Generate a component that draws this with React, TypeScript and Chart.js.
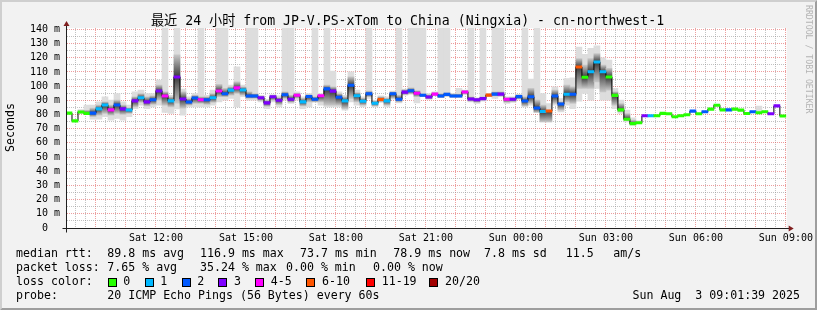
import { useEffect, useRef } from 'react';
import { Chart, registerables } from 'chart.js';
Chart.register(...registerables);

// ---- data (minutes since Sat 00:00; 12-minute consolidated steps from Sat 09:00) ----
const stepStartMinutes = 540;
const stepMinutes = 12;
const windowStart = 541.65; // Sat 09:01:39
const windowEnd = 1981.65; // Sun 09:01:39
const gridStepMinutes = 20;
const OFF = 145; // smoke reaching above the chart

const medianRtt = [
  81.0, 75.5, 81.8, 80.8, 81.0, 84.0, 86.7, 83.3, 86.7, 84.0,
  83.2, 89.6, 91.8, 88.9, 90.4, 96.6, 93.1, 89.6, 106.5, 91.0,
  88.8, 91.6, 90.4, 90.4, 91.8, 96.6, 94.6, 97.2, 98.8, 97.3,
  93.0, 93.0, 91.8, 88.2, 92.5, 90.1, 93.9, 90.8, 93.6, 88.9,
  92.7, 90.8, 93.2, 98.1, 96.5, 92.2, 89.6, 100.7, 93.2, 89.4,
  94.6, 88.0, 90.6, 89.6, 94.6, 90.8, 95.8, 96.7, 95.0, 93.6,
  92.3, 94.4, 93.0, 94.2, 93.0, 93.0, 95.9, 91.0, 90.4, 91.2,
  93.7, 94.4, 94.4, 90.8, 90.8, 92.6, 89.5, 92.5, 84.6, 82.1,
  82.5, 93.1, 87.4, 94.3, 94.3, 113.5, 106.3, 110.1, 117.0, 110.1,
  106.4, 93.5, 83.3, 76.7, 73.6, 74.2, 79.1, 79.1, 79.1, 80.8,
  80.5, 78.4, 79.1, 79.8, 82.4, 80.5, 81.9, 83.8, 86.6, 83.3,
  83.3, 83.8, 83.1, 80.7, 81.9, 81.2, 81.9, 80.5, 86.1, 78.9,
];

const lossClass = [
  0, 0, 0, 0, 2, 1, 1, 4, 2, 3,
  1, 3, 1, 3, 2, 3, 4, 1, 3, 3,
  2, 2, 4, 2, 1, 4, 2, 1, 4, 1,
  2, 2, 3, 3, 3, 3, 2, 3, 4, 1,
  2, 2, 4, 2, 3, 2, 1, 2, 1, 1,
  2, 1, 5, 1, 2, 2, 3, 2, 4, 2,
  3, 4, 2, 2, 2, 2, 4, 3, 3, 3,
  5, 2, 3, 4, 3, 2, 2, 2, 2, 1,
  5, 2, 2, 1, 2, 5, 0, 1, 1, 1,
  0, 0, 0, 0, 0, 0, 3, 1, 0, 0,
  0, 0, 0, 0, 2, 0, 2, 0, 0, 0,
  2, 0, 0, 0, 2, 0, 0, 3, 3, 0,
];

const smokeLo = [
  null, null, 80.8, 80.0, 76.7, 76.7, 78.4, 76.0, 77.2, 76.0,
  78.4, 84.2, 86.6, 84.2, 85.4, 86.6, 81.4, 80.7, 84.0, 79.5,
  85.4, 85.4, 85.4, 85.4, 86.6, 88.9, 90.1, 91.3, 85.4, 92.5,
  90.1, 90.1, 88.9, 84.2, 88.9, 85.4, 90.1, 87.8, 90.1, 84.2,
  85.4, 88.9, 86.6, 85.4, 85.4, 85.4, 83.1, 88.9, 86.6, 85.4,
  91.3, 85.4, 88.5, 85.4, 90.8, 88.2, 93.6, 94.6, 88.2, 92.5,
  90.8, 93.2, 91.8, 92.5, 91.8, 91.8, 94.1, 88.9, 87.8, 89.4,
  92.5, 91.3, 92.5, 87.8, 88.5, 90.8, 85.4, 86.6, 81.4, 74.8,
  74.8, 86.6, 81.9, 86.6, 84.2, 89.4, 94.8, 90.1, 98.4, 90.1,
  90.1, 84.2, 80.7, 74.8, 72.5, 73.5, null, null, null, null,
  null, null, null, null, null, null, null, null, null, null,
  null, null, null, null, null, 80.7, null, null, null, null,
];

const smokeHi = [
  null, null, 83.5, 86.6, 86.6, 88.9, 92.5, 90.1, 94.8, 88.9,
  86.6, 96.0, 97.2, 94.8, 94.8, 104.2, OFF, 93.6, OFF, 98.0,
  92.5, 94.8, OFF, 93.6, 97.2, OFF, OFF, 100.7, 113.6, 100.7,
  OFF, OFF, 93.6, 90.8, 94.1, 93.2, OFF, OFF, 96.0, 92.5,
  94.8, OFF, 94.8, OFF, 110.6, 96.0, 93.6, 110.1, 97.2, 92.5,
  OFF, 90.1, 93.2, 92.5, 96.5, OFF, 97.9, OFF, OFF, OFF,
  94.8, 96.0, OFF, OFF, 94.8, 98.4, 97.2, OFF, 91.8, OFF,
  94.8, OFF, OFF, 92.5, 92.5, 94.1, OFF, 105.0, OFF, 94.8,
  87.8, 99.5, 91.3, 105.4, 105.9, 127.5, 122.4, 126.6, 128.5, 120.0,
  118.4, 98.4, 90.1, 83.1, 77.6, 75.5, null, null, null, null,
  null, null, null, null, null, null, null, null, null, null,
  null, null, null, null, null, 85.9, null, null, null, null,
];

const coreLo = [
  null, null, 81.0, 80.2, 78.5, 79.5, 80.7, 79.5, 80.7, 80.0,
  80.7, 85.4, 88.5, 86.1, 87.1, 90.1, 86.6, 85.4, 88.0, 84.5,
  86.6, 87.8, 87.8, 87.1, 88.5, 92.5, 92.5, 93.6, 94.8, 93.6,
  91.3, 91.3, 89.8, 85.8, 90.0, 87.0, 91.3, 88.5, 91.5, 86.0,
  88.9, 88.9, 88.9, 86.6, 86.6, 86.6, 84.2, 91.3, 88.9, 86.6,
  92.5, 86.0, 89.0, 86.6, 91.5, 88.9, 94.0, 94.6, 92.5, 92.5,
  91.0, 93.4, 91.8, 93.2, 92.0, 92.0, 94.5, 89.4, 88.5, 89.9,
  92.8, 93.2, 93.2, 88.5, 89.0, 91.0, 86.0, 87.8, 81.4, 74.8,
  74.8, 87.8, 83.1, 88.9, 87.8, 98.4, 98.4, 98.4, 103.0, 96.0,
  97.2, 86.6, 81.9, 76.0, 73.0, null, null, null, null, null,
  null, null, null, null, null, null, null, null, null, null,
  null, null, null, null, null, null, null, null, null, null,
];

const coreHi = [
  null, null, 82.6, 83.0, 84.5, 86.6, 88.9, 86.6, 90.1, 86.6,
  84.7, 92.5, 94.8, 92.5, 93.2, 100.7, 96.0, 92.5, 122.0, 96.0,
  91.3, 93.6, 92.5, 92.5, 94.8, 101.2, 98.4, 99.5, 103.0, 99.5,
  96.0, 94.8, 93.0, 90.0, 93.6, 92.0, 96.0, 93.6, 95.0, 91.5,
  94.1, 92.5, 94.1, 100.7, 99.5, 94.8, 92.5, 106.6, 95.5, 91.5,
  96.5, 89.5, 92.5, 91.5, 96.0, 93.6, 97.5, 98.8, 96.9, 94.8,
  94.0, 95.5, 94.8, 95.5, 94.5, 94.5, 97.0, 92.5, 91.5, 92.5,
  94.5, 96.0, 96.0, 92.0, 92.0, 93.8, 92.5, 98.4, 90.1, 86.6,
  83.1, 97.2, 88.9, 100.7, 99.5, 119.5, 114.8, 119.5, 123.0, 114.8,
  112.5, 96.0, 87.8, 80.7, 76.0, null, null, null, null, null,
  null, null, null, null, null, null, null, null, null, null,
  null, null, null, null, null, null, null, null, null, null,
];

const lossColors = ['#26ff00', '#00b8ff', '#0059ff', '#7e00ff', '#ff00ff', '#ff5500', '#ff0000', '#a10000'];
const lossLabels = ['0', '1', '2', '3', '4-5', '6-10', '11-19', '20/20'];

const titleText = '最近 24 小时 from JP-V.PS-xTom to China (Ningxia) - cn-northwest-1';
const yAxisTitle = 'Seconds';
const sideText = 'RRDTOOL / TOBI OETIKER';
const rttStats = ['median rtt:', '89.8 ms avg', '116.9 ms max', '73.7 ms min', '78.9 ms now', '7.8 ms sd', '11.5', 'am/s'];
const lossStats = ['packet loss:', '7.65 % avg', '35.24 % max', '0.00 % min', '0.00 % now'];
const lossLegendTitle = 'loss color:';
const probeText = ['probe:', '20 ICMP Echo Pings (56 Bytes) every 60s'];
const stampText = 'Sun Aug  3 09:01:39 2025';

// ---- styling ----
const W = 817;
const H = 310;
const MONO = '"DejaVu Sans Mono", "Noto Sans CJK SC", monospace';
const GRID = 'rgba(143,143,143,0.55)';
const MGRID = 'rgba(222,79,79,0.55)';

const stepCenter = (k: number) => stepStartMinutes + stepMinutes * k + stepMinutes / 2;

function buildConfig(): any {
  const smokeData: any[] = [];
  const coreData: any[] = [];
  medianRtt.forEach((m, k) => {
    if (smokeLo[k] != null && smokeHi[k] != null) smokeData.push({ x: stepCenter(k), y: [smokeLo[k], smokeHi[k]] });
    if (coreLo[k] != null && coreHi[k] != null) coreData.push({ x: stepCenter(k), y: [coreLo[k], coreHi[k]], m });
  });
  const medianBars = medianRtt.map((m, k) => ({ x: stepCenter(k), y: [m - 0.85, m + 0.85] }));
  const stepLine = medianRtt.map((m, k) => ({ x: stepStartMinutes + stepMinutes * k, y: m }));
  stepLine.push({ x: stepStartMinutes + stepMinutes * medianRtt.length, y: medianRtt[medianRtt.length - 1] });

  const coreColor = (c: any) => {
    const chart = c.chart;
    const raw = c.raw;
    const ys = chart.scales && chart.scales.y;
    if (!raw || !ys || !chart.chartArea) return '#666';
    const yTop = ys.getPixelForValue(raw.y[1]);
    const yBot = ys.getPixelForValue(raw.y[0]);
    const yM = ys.getPixelForValue(raw.m);
    if (yBot - yTop < 1) return '#555';
    const g = chart.ctx.createLinearGradient(0, yTop, 0, yBot);
    const t = Math.min(0.97, Math.max(0.03, (yM - yTop) / (yBot - yTop)));
    g.addColorStop(0, '#c6c6c6');
    g.addColorStop(t, '#3a3a3a');
    g.addColorStop(1, '#c6c6c6');
    return g;
  };

  const decor = {
    id: 'smokepingDecor',
    beforeDraw(chart: any) {
      const { ctx, chartArea: a } = chart;
      ctx.save();
      ctx.fillStyle = '#f2f2f2';
      ctx.fillRect(0, 0, W, H);
      ctx.fillStyle = '#cfcfcf';
      ctx.beginPath();
      ctx.moveTo(0, H); ctx.lineTo(2, H - 2); ctx.lineTo(2, 2); ctx.lineTo(W - 2, 2); ctx.lineTo(W, 0); ctx.lineTo(0, 0);
      ctx.closePath(); ctx.fill();
      ctx.fillStyle = '#9e9e9e';
      ctx.beginPath();
      ctx.moveTo(2, H - 2); ctx.lineTo(W - 2, H - 2); ctx.lineTo(W - 2, 2); ctx.lineTo(W, 0); ctx.lineTo(W, H); ctx.lineTo(0, H);
      ctx.closePath(); ctx.fill();
      ctx.fillStyle = '#ffffff';
      ctx.fillRect(a.left, a.top, a.right - a.left, a.bottom - a.top);
      ctx.restore();
    },
    afterDraw(chart: any) {
      const { ctx, chartArea: a } = chart;
      const x0 = Math.floor(a.left) + 0.5;
      const y0 = Math.floor(a.bottom) + 0.5;
      ctx.save();
      // axes
      ctx.strokeStyle = '#1f1f1f';
      ctx.lineWidth = 1;
      ctx.beginPath();
      ctx.moveTo(x0 - 4, y0); ctx.lineTo(a.right + 4, y0);
      ctx.moveTo(x0, y0 + 4); ctx.lineTo(x0, a.top - 4);
      ctx.stroke();
      ctx.fillStyle = '#801f1f';
      ctx.beginPath();
      ctx.moveTo(a.right + 2, y0 - 3); ctx.lineTo(a.right + 2, y0 + 3); ctx.lineTo(a.right + 7, y0); ctx.closePath(); ctx.fill();
      ctx.beginPath();
      ctx.moveTo(x0 - 3, a.top - 2); ctx.lineTo(x0 + 3, a.top - 2); ctx.lineTo(x0, a.top - 7); ctx.closePath(); ctx.fill();

      // title
      ctx.fillStyle = '#000';
      ctx.textBaseline = 'middle';
      ctx.textAlign = 'center';
      ctx.font = `13.2px ${MONO}`;
      ctx.fillText(titleText, 407.5, 21.5);

      // y axis title
      ctx.font = `11.6px ${MONO}`;
      ctx.save();
      ctx.translate(10.5, 127.5);
      ctx.rotate(-Math.PI / 2);
      ctx.fillText(yAxisTitle, 0, 0);
      ctx.restore();

      // side text
      ctx.save();
      ctx.fillStyle = '#b4b4b4';
      ctx.font = `8.2px ${MONO}`;
      ctx.translate(808, 5);
      ctx.rotate(Math.PI / 2);
      ctx.textAlign = 'left';
      ctx.fillText(sideText, 0, 0);
      ctx.restore();

      // statistics block
      ctx.textAlign = 'left';
      ctx.font = `11.6px ${MONO}`;
      const rttX = [16, 107.3, 200, 300, 393.3, 484, 565.7, 613.3];
      rttStats.forEach((t, i) => ctx.fillText(t, rttX[i], 254.3));
      const lossX = [16, 107.3, 200, 286, 373];
      lossStats.forEach((t, i) => ctx.fillText(t, lossX[i], 268.3));
      ctx.fillText(lossLegendTitle, 16, 282.3);
      const boxX = [108.7, 145.7, 182.7, 219.3, 256, 306.7, 366.7, 430];
      const labX = [123.3, 160.3, 197.3, 234, 270.7, 322, 381.7, 445];
      lossLabels.forEach((t, i) => {
        const bx = Math.round(boxX[i]);
        ctx.fillStyle = lossColors[i];
        ctx.fillRect(bx, 279, 7, 7);
        ctx.strokeStyle = '#000';
        ctx.strokeRect(bx - 0.5, 278.5, 8, 8);
        ctx.fillStyle = '#000';
        ctx.fillText(t, labX[i], 282.3);
      });
      ctx.fillText(probeText[0], 16, 296);
      ctx.fillText(probeText[1], 107.3, 296);
      ctx.textAlign = 'right';
      ctx.fillText(stampText, 800, 296);
      ctx.restore();
    },
  };

  return {
    type: 'bar',
    data: {
      datasets: [
        {
          type: 'bar', label: 'smoke', data: smokeData, backgroundColor: '#dddddd',
          grouped: false, barPercentage: 1, categoryPercentage: 1, borderWidth: 0, order: 5,
        },
        {
          type: 'bar', label: 'smoke core', data: coreData, backgroundColor: coreColor,
          grouped: false, barPercentage: 1, categoryPercentage: 1, borderWidth: 0, order: 4,
        },
        {
          type: 'line', label: 'median', data: stepLine, stepped: true, borderColor: '#000000',
          borderWidth: 1, pointRadius: 0, fill: false, order: 2,
        },
        {
          type: 'bar', label: 'median loss', data: medianBars,
          backgroundColor: lossClass.map((i) => lossColors[i]),
          grouped: false, barPercentage: 1, categoryPercentage: 1, borderWidth: 0, order: 1,
        },
      ],
    },
    options: {
      responsive: false,
      animation: false,
      events: [],
      layout: { padding: { left: 0, top: 28, right: W - 786.825, bottom: 0 } },
      plugins: { legend: { display: false }, tooltip: { enabled: false }, title: { display: false } },
      scales: {
        x: {
          type: 'linear', min: windowStart, max: windowEnd, offset: false, z: 1,
          afterFit: (s: any) => { s.height = 82; },
          afterBuildTicks: (s: any) => {
            const t: any[] = [];
            const first = Math.ceil(windowStart / gridStepMinutes) * gridStepMinutes;
            for (let v = first; v <= windowEnd; v += gridStepMinutes) t.push({ value: v });
            s.ticks = t;
          },
          grid: {
            color: (c: any) => (c.tick && c.tick.value % 60 === 0 ? MGRID : GRID),
            lineWidth: 1, drawTicks: false, offset: false,
          },
          border: { display: false, dash: [1, 1] },
          ticks: {
            autoSkip: false, maxRotation: 0, minRotation: 0, padding: 4,
            color: '#000', font: { family: MONO, size: 10 },
            callback: (v: any) => {
              const n = Math.round(Number(v));
              if (n % 180 !== 0) return '';
              const day = n < 1440 ? 'Sat' : 'Sun';
              const h = Math.floor((n % 1440) / 60);
              return `${day} ${String(h).padStart(2, '0')}:00`;
            },
          },
        },
        y: {
          type: 'linear', min: 0, max: 141, z: 1,
          afterFit: (s: any) => { s.width = 66.825; },
          grid: {
            color: (c: any) => (c.tick && c.tick.value % 10 === 0 ? MGRID : GRID),
            lineWidth: 1, drawTicks: false,
          },
          border: { display: false, dash: [1, 1] },
          ticks: {
            stepSize: 5, autoSkip: false, includeBounds: false, padding: 6.8,
            color: '#000', font: { family: MONO, size: 10 },
            callback: (v: any) => {
              const n = Number(v);
              if (n % 10 !== 0) return '';
              return n === 0 ? '0  ' : `${n} m`;
            },
          },
        },
      },
    },
    plugins: [decor],
  };
}

export default function App() {
  const ref = useRef<HTMLCanvasElement>(null);
  useEffect(() => {
    document.body.style.margin = '0';
    const canvas = ref.current;
    if (!canvas) return;
    const chart = new Chart(canvas, buildConfig());
    return () => chart.destroy();
  }, []);
  return <canvas ref={ref} width={W} height={H} style={{ display: 'block', width: W, height: H }} />;
}
